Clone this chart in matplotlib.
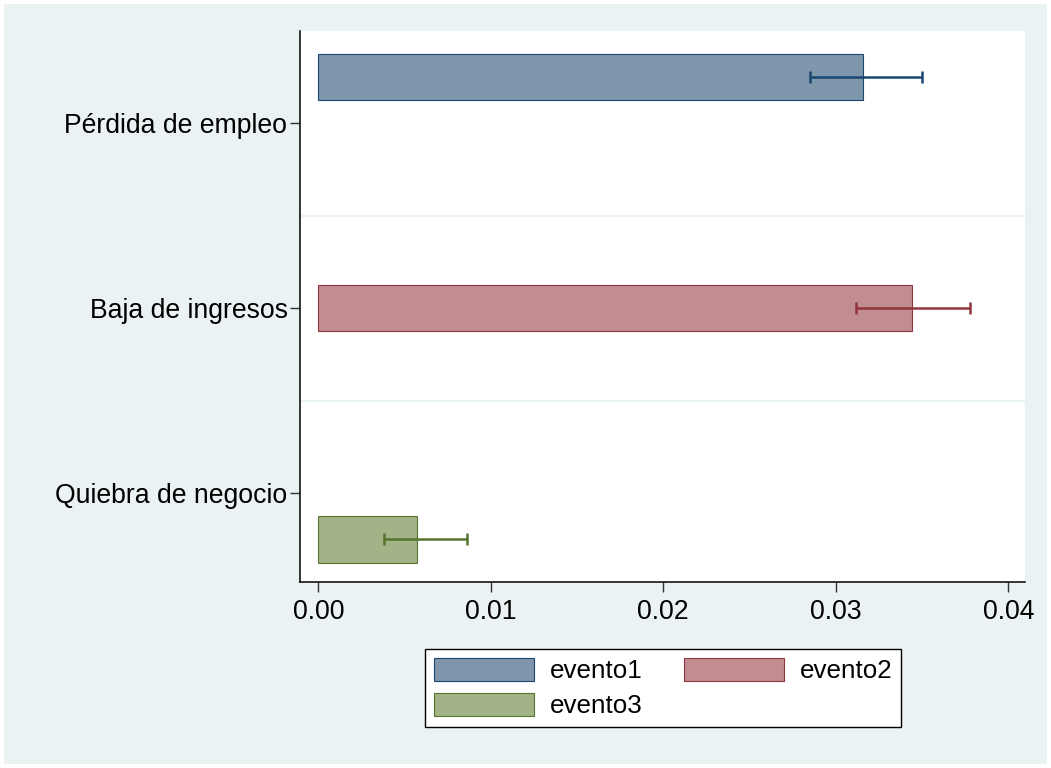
import numpy as np
import matplotlib.pyplot as plt
from matplotlib.patches import Rectangle

plt.rcParams['font.family'] = ['Liberation Sans', 'DejaVu Sans']

categorias = ["Pérdida de empleo", "Baja de ingresos", "Quiebra de negocio"]
series = ["evento1", "evento2", "evento3"]
medias = [0.0316, 0.0344, 0.0057]
ic_bajo = [0.0285, 0.0312, 0.0038]
ic_alto = [0.0350, 0.0378, 0.0086]

relleno = ["#7F97AD", "#C18D91", "#A2B387"]
borde = ["#1A476F", "#90353B", "#55752F"]
fondo = "#EAF2F3"

fig = plt.figure(figsize=(10.51, 7.68), dpi=100, facecolor="white")
fig.patches.append(Rectangle((4 / 1051, 4 / 768), 1043 / 1051, 760 / 768,
                             transform=fig.transFigure, facecolor=fondo,
                             edgecolor="none", zorder=-10))

ax = fig.add_axes([300 / 1051, 1 - 582 / 768, 725 / 1051, 551 / 768])
ax.set_zorder(1)
ax.set_facecolor("white")

offsets = [-0.25, 0.0, 0.25]
barras = []
for i in range(len(categorias)):
    y = i + offsets[i]
    b = ax.barh(y, medias[i], height=0.25, color=relleno[i], edgecolor=borde[i],
                linewidth=0.8, label=series[i], zorder=2)
    barras.append(b)
    centro = (ic_bajo[i] + ic_alto[i]) / 2
    ax.errorbar(centro, y, xerr=[[centro - ic_bajo[i]], [ic_alto[i] - centro]],
                fmt="none", ecolor=borde[i], elinewidth=1.8, capsize=4,
                capthick=1.8, zorder=3)

for g in [0.5, 1.5]:
    ax.axhline(g, color=fondo, linewidth=1.6, zorder=1)

ax.set_ylim(2.48, -0.5)
ax.set_xlim(-0.00106, 0.04097)
ax.set_yticks(range(len(categorias)))
ax.set_yticklabels(categorias)
xt = [0.0, 0.01, 0.02, 0.03, 0.04]
ax.set_xticks(xt)
ax.set_xticklabels([f"{v:.2f}" for v in xt])
ax.tick_params(axis="both", labelsize=19.2, length=7, width=1, color="#333333")
ax.tick_params(axis="y", pad=2)
ax.tick_params(axis="x", pad=5)

for s in ["top", "right"]:
    ax.spines[s].set_visible(False)
for s in ["left", "bottom"]:
    ax.spines[s].set_linewidth(1.1)
    ax.spines[s].set_color("black")

# orden por filas: evento1 evento2 / evento3
orden = [0, 2, 1]
leg = fig.legend([barras[k] for k in orden], [series[k] for k in orden],
                 loc="center", bbox_to_anchor=(663 / 1051, 1 - 688 / 768),
                 ncol=2, fontsize=18.7, frameon=True, fancybox=False,
                 edgecolor="black", facecolor="white", framealpha=1,
                 handlelength=3.85, handleheight=1.0, handletextpad=0.6,
                 columnspacing=1.6, labelspacing=0.35, borderpad=0.35)
leg.get_frame().set_linewidth(1.0)
leg.set_zorder(5)

fig.savefig("out.png", dpi=100, facecolor=fig.get_facecolor())
